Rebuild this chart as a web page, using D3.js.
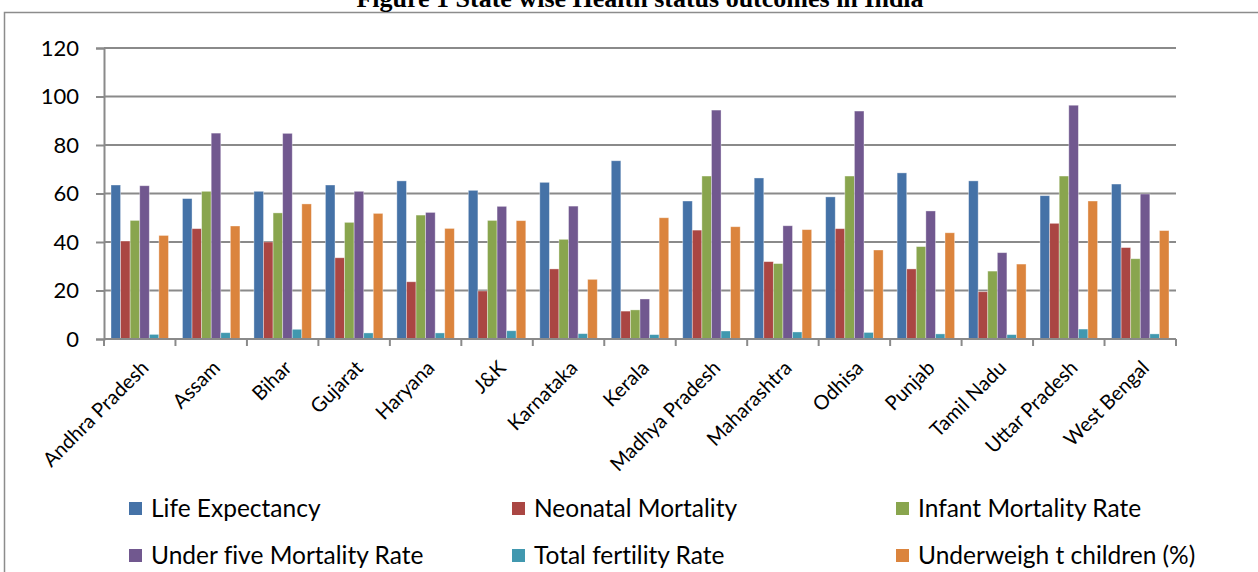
<!DOCTYPE html>
<html>
<head>
<meta charset="utf-8">
<script src="https://cdn.jsdelivr.net/npm/d3@7"></script>
<style>
  html, body { margin: 0; padding: 0; background: #fff; }
  svg { display: block; }
</style>
</head>
<body>
<svg id="chart" width="1258" height="572"></svg>
<script>
const states = ["Andhra Pradesh","Assam","Bihar","Gujarat","Haryana","J&K","Karnataka","Kerala","Madhya Pradesh","Maharashtra","Odhisa","Punjab","Tamil Nadu","Uttar Pradesh","West Bengal"];
const seriesNames = ["Life Expectancy","Neonatal Mortality","Infant Mortality Rate","Under five Mortality Rate","Total fertility Rate","Underweigh t children (%)"];
const seriesColors = ["#4572A7","#AA4643","#89A54E","#71588F","#4198AF","#DB843D"];
const lifeExpectancy   = [63.5, 57.9, 60.9, 63.5, 65.2, 61.3, 64.6, 73.5, 56.9, 66.4, 58.6, 68.5, 65.2, 59.1, 63.9];
const neonatalMortality= [40.4, 45.5, 40.0, 33.5, 23.6, 19.8, 28.9, 11.5, 44.9, 31.9, 45.5, 28.9, 19.5, 47.7, 37.7];
const infantMortality  = [48.9, 60.9, 52.0, 48.1, 51.1, 48.9, 41.1, 12.0, 67.2, 31.1, 67.2, 38.1, 28.0, 67.2, 33.1];
const underFiveMortality=[63.2, 84.9, 84.8, 60.9, 52.2, 54.7, 54.8, 16.5, 94.4, 46.7, 94.0, 52.8, 35.6, 96.4, 59.8];
const totalFertility   = [1.9, 2.6, 4.0, 2.5, 2.5, 3.4, 2.2, 1.8, 3.3, 2.9, 2.7, 2.1, 1.8, 4.1, 2.1];
const underweight      = [42.7, 46.6, 55.7, 51.8, 45.6, 48.8, 24.6, 50.0, 46.3, 45.1, 36.7, 43.8, 30.9, 56.9, 44.7];
const yTicks = [0, 20, 40, 60, 80, 100, 120];
const titleText = "Figure 1 State wise Health status outcomes in India";

const seriesValues = [lifeExpectancy, neonatalMortality, infantMortality, underFiveMortality, totalFertility, underweight];

const svg = d3.select("#chart");
const plotLeft = 104, plotRight = 1176, plotTop = 48, plotBottom = 339;

// outer frame
svg.append("rect").attr("x", 4.5).attr("y", 12.5).attr("width", 1300).attr("height", 700)
  .attr("fill", "none").attr("stroke", "#8c8c8c").attr("stroke-width", 1.5);

// title (partly cut at the top edge, as in the source)
svg.append("text").attr("x", 640).attr("y", 7).attr("text-anchor", "middle")
  .attr("font-family", "Liberation Serif, Times New Roman, serif").attr("font-weight", "bold")
  .attr("font-size", 26).attr("fill", "#000").text(titleText);

const x = d3.scaleBand().domain(states).range([plotLeft, plotRight]).paddingInner(0).paddingOuter(0);
const xs = d3.scaleBand().domain(seriesNames).range([7, x.bandwidth() - 7]);
const y = d3.scaleLinear().domain([0, 120]).range([plotBottom, plotTop]);

// gridlines
svg.append("g").selectAll("line").data(yTicks.filter(d => d > 0)).join("line")
  .attr("x1", plotLeft).attr("x2", plotRight).attr("y1", d => y(d)).attr("y2", d => y(d))
  .attr("stroke", "#8a8a8a").attr("stroke-width", 2);

// bars
const groups = svg.append("g").selectAll("g").data(seriesNames).join("g")
  .attr("fill", (d, i) => seriesColors[i]);
groups.each(function(name, si) {
  d3.select(this).selectAll("rect").data(states).join("rect")
    .attr("x", s => x(s) + xs(name))
    .attr("width", xs.bandwidth())
    .attr("y", (s, i) => y(seriesValues[si][i]))
    .attr("height", (s, i) => y(0) - y(seriesValues[si][i]))
    .attr("stroke", "rgba(255,255,255,0.45)").attr("stroke-width", 0.8);
});

// y axis
const yAxis = d3.axisLeft(y).tickValues(yTicks).tickSize(8).tickPadding(17).tickFormat(d3.format("d"));
const gy = svg.append("g").attr("transform", `translate(${plotLeft},0)`).call(yAxis);
gy.select(".domain").attr("stroke", "#8a8a8a").attr("stroke-width", 2);
gy.selectAll(".tick line").attr("stroke", "#8a8a8a").attr("stroke-width", 2);
gy.selectAll(".tick text").attr("font-family", "Lato, Carlito, Calibri, sans-serif").attr("font-size", 22).attr("fill", "#000");

// x axis
const xTickPositions = states.map(s => x(s)).concat([plotRight]);
const gx = svg.append("g");
gx.append("line").attr("x1", plotLeft).attr("x2", plotRight).attr("y1", plotBottom).attr("y2", plotBottom)
  .attr("stroke", "#8a8a8a").attr("stroke-width", 2);
gx.selectAll("line.t").data(xTickPositions).join("line").attr("class", "t")
  .attr("x1", d => d).attr("x2", d => d).attr("y1", plotBottom).attr("y2", plotBottom + 7)
  .attr("stroke", "#8a8a8a").attr("stroke-width", 2);
gx.selectAll("text").data(states).join("text")
  .attr("transform", s => `translate(${x(s) + x.bandwidth() / 2},${plotBottom + 20}) rotate(-45)`)
  .attr("text-anchor", "end").attr("dy", "0.72em")
  .attr("font-family", "Lato, Carlito, Calibri, sans-serif").attr("font-size", 20).attr("fill", "#000")
  .text(s => s);

// legend
const legCols = [129, 512, 896], legRows = [502, 549];
const leg = svg.append("g").selectAll("g").data(seriesNames).join("g")
  .attr("transform", (d, i) => `translate(${legCols[i % 3]},${legRows[Math.floor(i / 3)]})`);
leg.append("rect").attr("width", 13).attr("height", 13).attr("fill", (d, i) => seriesColors[i]);
leg.append("text").attr("x", 22).attr("y", 15)
  .attr("font-family", "Lato, Carlito, Calibri, sans-serif").attr("font-size", 24.5).attr("fill", "#000")
  .style("font-variant-ligatures", "none")
  .text(d => d);
</script>
</body>
</html>
